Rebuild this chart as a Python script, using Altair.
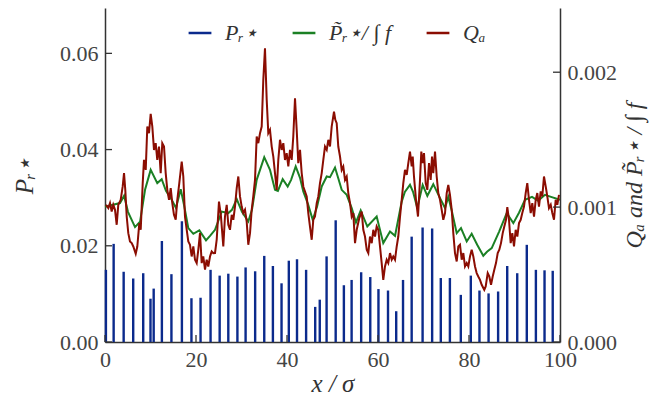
import altair as alt
import pandas as pd

# ---- data ----
spike_x = [0.2, 1.9, 4.1, 6.2, 8.4, 10.0, 10.7, 12.5, 14.6, 16.9, 19.0, 21.0, 23.2, 25.2, 27.1,
           29.1, 30.9, 33.0, 35.0, 36.9, 38.8, 40.4, 42.2, 44.2, 46.2, 47.2, 48.7, 50.7, 52.5,
           54.2, 56.3, 58.3, 60.1, 62.2, 64.0, 65.5, 67.4, 69.8, 71.9, 73.8, 75.8, 78.2, 80.4,
           82.3, 84.3, 86.4, 88.4, 90.6, 92.7, 94.7, 96.6, 98.4]
spike_h = [0.0150, 0.0204, 0.0146, 0.0132, 0.0143, 0.0090, 0.0111, 0.0210, 0.0141, 0.0251,
           0.0091, 0.0092, 0.0150, 0.0138, 0.0142, 0.0136, 0.0155, 0.0147, 0.0179, 0.0158,
           0.0122, 0.0169, 0.0172, 0.0150, 0.0073, 0.0088, 0.0178, 0.0253, 0.0118, 0.0129,
           0.0145, 0.0135, 0.0110, 0.0107, 0.0064, 0.0129, 0.0219, 0.0238, 0.0236, 0.0133,
           0.0133, 0.0098, 0.0138, 0.0107, 0.0101, 0.0105, 0.0158, 0.0143, 0.0202, 0.0150,
           0.0149, 0.0148]

green_x = [0.0, 3.3, 4.2, 5.05, 6.6, 7.7, 8.8, 10.04, 11.49, 12.46, 13.4, 14.66, 15.6, 16.64,
           17.36, 18.31, 19.41, 20.73, 22.2, 23.08, 24.18, 25.65, 27.1, 27.9, 28.95, 30.1,
           31.49, 32.3, 33.34, 35.0, 36.26, 37.36, 38.0, 39.05, 40.15, 40.9, 41.91, 42.86,
           43.58, 44.6, 45.65, 46.6, 47.63, 48.73, 49.45, 50.55, 51.3, 52.02, 53.12, 54.22,
           55.16, 56.2, 57.65, 59.71, 61.16, 62.64, 63.74, 65.21, 65.9, 67.03, 67.7, 68.64,
           69.82, 70.84, 72.15, 73.63, 74.73, 75.45, 76.26, 77.3, 78.24, 79.5, 80.59, 81.8,
           83.14, 83.96, 84.99, 86.6, 88.29, 89.74, 90.99, 92.31, 93.85, 95.2, 96.7, 98.18, 100.0]
green_milli = [1.002, 1.03, 1.084, 0.965, 0.852, 0.891, 1.128, 1.276, 1.178, 1.207, 1.121,
               1.054, 0.993, 1.133, 1.017, 0.844, 0.802, 0.827, 0.753, 0.787, 0.832, 0.967,
               0.956, 0.98, 1.059, 0.965, 0.893, 0.98, 1.202, 1.37, 1.276, 1.128, 1.12, 1.207,
               1.153, 1.202, 1.301, 1.217, 1.116, 1.024, 0.906, 1.002, 1.153, 1.227, 1.222,
               1.293, 1.21, 1.128, 1.091, 0.993, 0.886, 0.975, 0.856, 0.93, 0.733, 0.819, 0.787,
               1.041, 1.113, 1.165, 1.113, 0.993, 1.165, 1.084, 1.17, 1.067, 0.993, 1.076, 0.965,
               0.807, 0.844, 0.745, 0.802, 0.721, 0.639, 0.669, 0.696, 0.817, 0.956, 0.881,
               0.958, 1.054, 1.076, 1.047, 1.091, 1.074, 1.054]

red_x = [0.22, 0.73, 1.10, 1.47, 1.82, 2.20, 2.57, 2.92, 3.45, 3.89, 4.18, 4.46, 4.77, 5.12,
         5.49, 5.87, 6.22, 6.75, 7.10, 7.54, 7.85, 8.29, 8.57, 8.95, 9.30, 9.67, 10.04, 10.40,
         10.77, 11.14, 11.49, 11.87, 12.24, 12.59, 12.97, 13.34, 13.69, 14.07, 14.44, 14.79,
         15.16, 15.54, 15.89, 16.33, 16.86, 17.21, 17.58, 17.96, 18.31, 18.68, 19.05, 19.41,
         19.78, 20.15, 20.51, 20.88, 21.25, 21.60, 21.98, 22.35, 22.70, 23.08, 23.45, 23.80,
         24.18, 24.55, 25.05, 25.49, 26.00, 26.37, 26.75, 27.10, 27.47, 27.85, 28.20, 28.57,
         28.95, 29.30, 29.67, 30.04, 30.40, 30.77, 31.14, 31.49, 31.87, 32.24, 32.59, 32.97,
         33.34, 33.69, 34.07, 34.44, 34.79, 35.16, 35.54, 35.89, 36.26, 36.64, 36.99, 37.36,
         37.74, 38.09, 38.46, 38.84, 39.19, 39.56, 39.93, 40.29, 40.66, 41.03, 41.38, 41.76,
         42.13, 42.48, 42.86, 43.23, 43.58, 43.96, 44.33, 44.68, 45.05, 45.43, 45.78, 46.15,
         46.53, 46.88, 47.25, 47.63, 47.98, 48.35, 48.73, 49.08, 49.45, 49.82, 50.33, 50.62,
         50.92, 51.27, 51.65, 52.02, 52.37, 52.75, 53.12, 53.47, 53.85, 54.22, 54.57, 54.95,
         55.32, 55.89, 56.42, 56.77, 57.14, 57.52, 57.87, 58.24, 58.62, 58.97, 59.34, 59.71,
         60.07, 60.44, 60.81, 61.16, 61.54, 61.91, 62.26, 62.64, 63.01, 63.36, 63.74, 64.11,
         64.46, 64.84, 65.21, 65.56, 65.93, 66.31, 66.66, 67.03, 67.41, 67.63, 67.91, 68.35,
         68.79, 69.23, 69.52, 69.82, 70.11, 70.48, 70.84, 71.21, 71.58, 71.87, 72.15, 72.53,
         72.90, 73.25, 73.63, 74.00, 74.35, 74.73, 75.10, 75.45, 75.82, 76.20, 76.55, 76.92,
         77.30, 77.65, 78.02, 78.40, 78.75, 79.12, 79.50, 79.85, 80.22, 80.59, 80.95, 81.32,
         81.69, 82.04, 82.42, 82.79, 83.36, 83.67, 84.11, 84.46, 84.84, 85.21, 85.56, 85.93,
         86.31, 86.66, 87.03, 87.41, 87.76, 88.13, 88.42, 88.79, 89.16, 89.52, 89.89, 90.26,
         90.62, 90.99, 91.36, 91.71, 92.09, 92.46, 92.81, 93.19, 93.56, 93.91, 94.29, 94.66,
         95.01, 95.38, 95.76, 96.11, 96.48, 96.86, 97.21, 97.58, 97.96, 98.31, 98.68, 99.05,
         99.41, 99.78]
red_milli = [1.017, 0.993, 1.030, 0.967, 1.017, 0.980, 0.869, 1.017, 1.054, 1.153, 1.252,
             1.128, 0.930, 0.807, 0.745, 0.733, 0.708, 0.654, 0.708, 0.881, 0.832, 1.178,
             1.350, 1.276, 1.597, 1.548, 1.691, 1.597, 1.424, 1.474, 1.350, 1.449, 1.252,
             1.474, 1.449, 1.252, 1.128, 1.054, 1.141, 1.030, 0.943, 0.906, 1.054, 1.178,
             1.338, 1.227, 0.930, 0.832, 0.745, 0.721, 0.634, 0.708, 0.610, 0.585, 0.684,
             0.807, 0.585, 0.634, 0.536, 0.610, 0.560, 0.634, 0.671, 0.659, 0.660, 0.758,
             1.041, 0.930, 0.708, 0.930, 1.017, 0.869, 0.832, 0.943, 0.906, 1.004, 1.141,
             1.227, 1.079, 1.004, 0.956, 0.980, 0.893, 0.721, 0.807, 0.980, 1.079, 1.202,
             1.523, 1.474, 1.548, 1.597, 1.943, 2.178, 1.795, 1.548, 1.573, 1.449, 1.375,
             1.252, 1.128, 1.350, 1.499, 1.424, 1.474, 1.350, 1.400, 1.301, 1.424, 1.350,
             1.523, 1.807, 1.573, 1.326, 1.424, 1.252, 1.153, 1.116, 1.079, 0.956, 0.856,
             0.758, 0.906, 0.930, 1.030, 1.079, 1.178, 1.252, 1.350, 1.449, 1.424, 1.499,
             1.449, 1.597, 1.708, 1.647, 1.622, 1.449, 1.375, 1.276, 1.301, 1.202, 1.227,
             1.104, 1.030, 0.930, 0.956, 0.733, 0.832, 0.919, 0.967, 0.832, 0.782, 0.684,
             0.659, 0.782, 0.733, 0.832, 0.782, 0.856, 0.832, 0.708, 0.585, 0.461, 0.560,
             0.610, 0.585, 0.659, 0.610, 0.634, 0.610, 0.708, 0.782, 0.930, 1.054, 1.178,
             1.276, 1.239, 1.326, 1.412, 1.301, 1.375, 1.227, 1.054, 0.930, 1.202, 1.412,
             1.326, 1.400, 1.178, 1.128, 1.326, 1.202, 1.375, 1.252, 1.412, 1.227, 1.104,
             1.054, 0.980, 0.906, 0.956, 1.104, 1.165, 1.091, 0.980, 0.807, 0.659, 0.597,
             0.708, 0.721, 0.610, 0.659, 0.560, 0.585, 0.560, 0.634, 0.684, 0.634, 0.560,
             0.511, 0.486, 0.461, 0.424, 0.387, 0.412, 0.511, 0.486, 0.424, 0.486, 0.536,
             0.585, 0.659, 0.684, 0.733, 0.807, 0.856, 0.906, 1.000, 0.906, 0.733, 0.807,
             0.708, 0.832, 0.782, 0.881, 0.906, 0.956, 1.004, 1.104, 1.178, 1.054, 0.956,
             1.030, 0.930, 1.054, 1.104, 1.004, 1.116, 1.079, 1.227, 1.153, 1.079, 0.993,
             1.017, 0.956, 0.906, 1.054, 1.017, 1.091]

x_ticks = [0, 20, 40, 60, 80, 100]
left_ticks = [0.0, 0.02, 0.04, 0.06]
right_ticks = [0.0, 0.001, 0.002]

series = ["Pᵣ⋆", "P̃ᵣ⋆/ ∫ f\u00a0\u00a0", "Qₐ"]
colors = ["#0b2a8c", "#1b8024", "#8b0d02"]
right_title = "Qₐ and P̃ᵣ⋆ / ∫ f"

W, H = 455, 334
FONT = "'Liberation Serif', 'DejaVu Serif', serif"
AX = "#333333"

spikes = pd.DataFrame({"x": spike_x, "h": spike_h, "zero": 0.0, "s": series[0]})
lines = pd.concat([
    pd.DataFrame({"x": green_x, "v": [g * 1e-3 for g in green_milli], "s": series[1], "o": 1}),
    pd.DataFrame({"x": red_x, "v": [r * 1e-3 for r in red_milli], "s": series[2], "o": 2}),
])

color = alt.Color("s:N", scale=alt.Scale(domain=series, range=colors),
                  legend=alt.Legend(title=None, orient="none", legendX=82, legendY=12,
                                    direction="horizontal", symbolType="stroke",
                                    symbolStrokeWidth=2.5, symbolSize=520,
                                    labelFont=FONT, labelFontSize=22, labelFontStyle="italic",
                                    labelColor="#333", columnPadding=29, labelOffset=12))

xS = alt.Scale(domain=[0, 100], nice=False)
yL = alt.Scale(domain=[0, 0.06943], nice=False)
yR = alt.Scale(domain=[0, 0.002476], nice=False)

x_axis = alt.Axis(values=x_ticks, title="x / σ", format="d")
yl_axis = alt.Axis(orient="left", values=left_ticks, format=".2f", title="Pᵣ⋆", titlePadding=22)
yr_axis = alt.Axis(orient="right", values=right_ticks, format=".3f", title=right_title,
                   titleAngle=270, titlePadding=30, titleFontSize=24)

bars = alt.Chart(spikes).mark_rule(strokeWidth=2.4).encode(
    x=alt.X("x:Q", scale=xS, axis=x_axis, title="x / σ"),
    y=alt.Y("h:Q", scale=yL, axis=yl_axis, title="Pᵣ⋆"),
    y2="zero:Q",
    color=color,
)
lt = alt.Chart(pd.DataFrame({"h": left_ticks})).mark_rule(color=AX, strokeWidth=1.3).encode(
    y=alt.Y("h:Q", scale=yL, axis=yl_axis, title="Pᵣ⋆"), x=alt.value(0), x2=alt.value(7))
bt = alt.Chart(pd.DataFrame({"x": x_ticks})).mark_rule(color=AX, strokeWidth=1.3).encode(
    x=alt.X("x:Q", scale=xS, axis=x_axis, title="x / σ"), y=alt.value(H), y2=alt.value(H - 7))
left = alt.layer(bars, lt, bt)

ln = alt.Chart(lines).mark_line(strokeWidth=2).encode(
    x=alt.X("x:Q", scale=xS, axis=x_axis, title="x / σ"),
    y=alt.Y("v:Q", scale=yR, axis=yr_axis, title=right_title),
    color=color,
    detail="s:N",
    order="o:Q",
)
rt = alt.Chart(pd.DataFrame({"v": right_ticks})).mark_rule(color=AX, strokeWidth=1.3).encode(
    y=alt.Y("v:Q", scale=yR, axis=yr_axis, title=right_title),
    x=alt.value(W), x2=alt.value(W - 7))
right = alt.layer(ln, rt)

chart = alt.layer(left, right).resolve_scale(y="independent").properties(
    width=W, height=H,
    autosize=alt.AutoSizeParams(type="none"),
    padding={"left": 97, "top": 0, "right": 94, "bottom": 60},
).configure_view(stroke=None).configure_axis(
    grid=False, ticks=False, domainColor=AX, domainWidth=1.5,
    labelFont=FONT, labelFontSize=22, labelColor="#444", labelPadding=7, labelFlush=False,
    titleFont=FONT, titleFontSize=25, titleFontWeight="normal", titleFontStyle="italic",
    titleColor="#333",
).configure_axisX(titlePadding=1)

chart.save("out.html", embed_options={"renderer": "svg", "actions": False})
